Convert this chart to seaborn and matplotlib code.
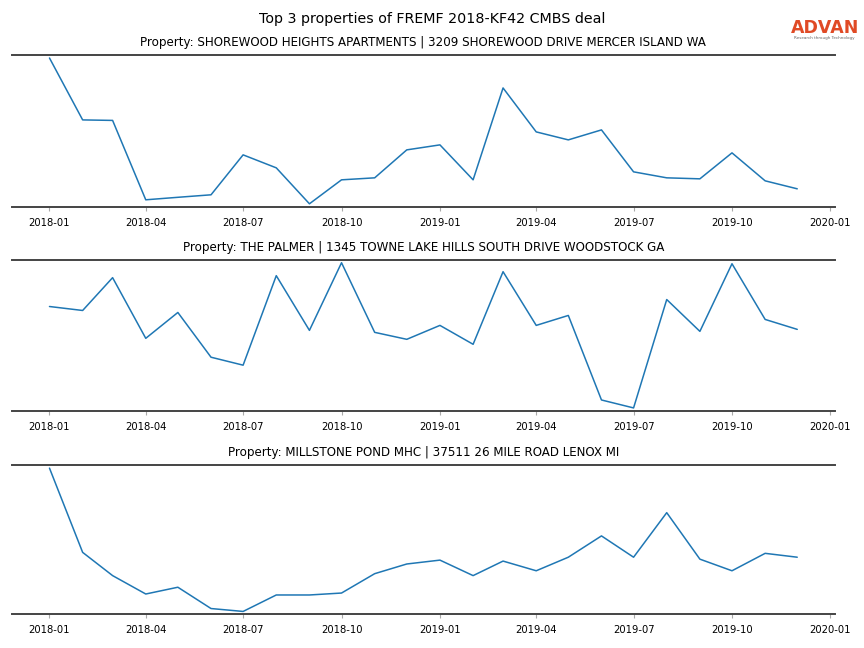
import seaborn as sns
import pandas as pd
import matplotlib.pyplot as plt
import matplotlib.dates as mdates

# ================= DATA =================
months = pd.date_range("2018-01-01", "2019-12-01", freq="MS")

shorewood = [149, 87, 86.5, 7, 9.5, 12, 52, 39, 3, 27, 29, 57,
             62, 27, 119, 75, 67, 77, 35, 29, 28, 54, 26, 18]
palmer = [104, 100, 133, 72, 98, 53, 45, 135, 80, 148, 78, 71,
          85, 66, 139, 85, 95, 10, 2, 111, 79, 147, 91, 81]
millstone = [149, 62, 38, 19, 26, 4, 1, 18, 18, 20, 40, 50,
             54, 38, 53, 43, 57, 79, 57, 103, 55, 43, 61, 57]

titles = [
    "Property: SHOREWOOD HEIGHTS APARTMENTS | 3209 SHOREWOOD DRIVE MERCER ISLAND WA",
    "Property: THE PALMER | 1345 TOWNE LAKE HILLS SOUTH DRIVE WOODSTOCK GA",
    "Property: MILLSTONE POND MHC | 37511 26 MILE ROAD LENOX MI",
]
series = [shorewood, palmer, millstone]
suptitle = "Top 3 properties of FREMF 2018-KF42 CMBS deal"
# ========================================

sns.set_style("white")
plt.rcParams['font.family'] = ['DejaVu Sans']
plt.rcParams['text.color'] = 'black'
plt.rcParams['xtick.color'] = 'black'

fig = plt.figure(figsize=(8.64, 6.48), dpi=100)
boxes = [(0.681, 0.915), (0.366, 0.599), (0.052, 0.282)]

for (bot, top), title, vals in zip(boxes, titles, series):
    ax = fig.add_axes([0.014, bot, 0.952, top - bot])
    df = pd.DataFrame({"month": months, "value": vals})
    sns.lineplot(data=df, x="month", y="value", ax=ax, color="#1f77b4", linewidth=1.1)
    ax.margins(y=0.02)
    ax.set_title(title, fontsize=8.6, pad=6.5, color="black")
    ax.set_xlabel("")
    ax.set_ylabel("")
    ax.set_yticks([])
    ax.xaxis.set_major_locator(mdates.MonthLocator(bymonth=[1, 4, 7, 10]))
    ax.xaxis.set_major_formatter(mdates.DateFormatter("%Y-%m"))
    ax.tick_params(axis="x", bottom=True, length=3, width=0.8, color="#aaaaaa",
                   labelsize=7.2, pad=5, labelcolor="black")
    for side in ["left", "right"]:
        ax.spines[side].set_visible(False)
    for side in ["top", "bottom"]:
        ax.spines[side].set_color("#444444")
        ax.spines[side].set_linewidth(1.4)

fig.suptitle(suptitle, fontsize=10.3, y=0.981, color="black")

# logo
fig.text(0.9545, 0.957, "ADVAN", color="#e04a25", fontsize=12.5, fontweight="bold",
         ha="center", va="center")
fig.text(0.9545, 0.941, "Research through Technology", color="#666666", fontsize=3,
         ha="center", va="center")

plt.savefig("out.png", dpi=100)
